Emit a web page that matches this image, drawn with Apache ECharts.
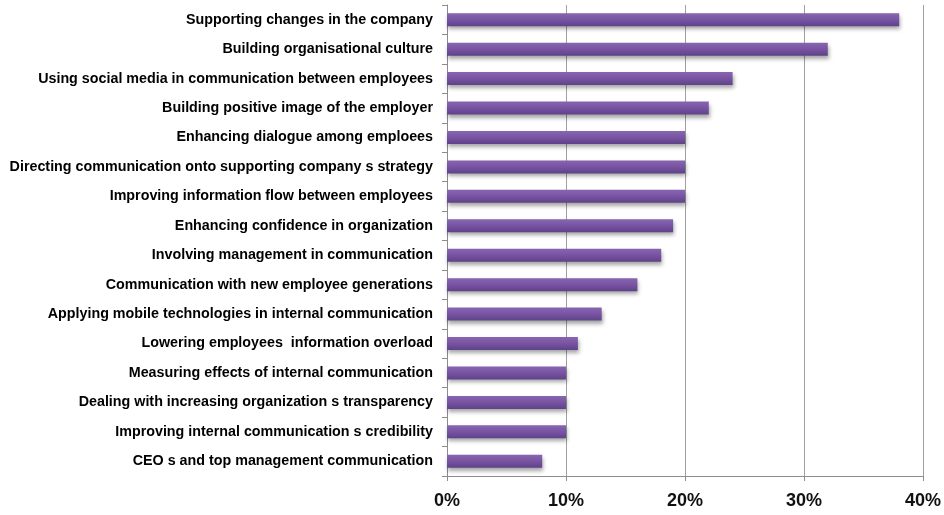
<!DOCTYPE html>
<html><head><meta charset="utf-8">
<script src="https://cdn.jsdelivr.net/npm/echarts@6/dist/echarts.min.js"></script>
<style>html,body{margin:0;padding:0;background:#fff}#c{width:944px;height:515px}</style>
</head><body><div id="c"></div>
<script>
var categories = [
  "Supporting changes in the company",
  "Building organisational culture",
  "Using social media in communication between employees",
  "Building positive image of the employer",
  "Enhancing dialogue among emploees",
  "Directing communication onto supporting company s strategy",
  "Improving information flow between employees",
  "Enhancing confidence in organization",
  "Involving management in communication",
  "Communication with new employee generations",
  "Applying mobile technologies in internal communication",
  "Lowering employees  information overload",
  "Measuring effects of internal communication",
  "Dealing with increasing organization s transparency",
  "Improving internal communication s credibility",
  "CEO s and top management communication"
];
var values = [38, 32, 24, 22, 20, 20, 20, 19, 18, 16, 13, 11, 10, 10, 10, 8];
var xTicks = [0, 10, 20, 30, 40];

var chart = echarts.init(document.getElementById('c'));
chart.setOption({
  animation: false,
  grid: { left: 447, right: 19, top: 5, bottom: 39 },
  xAxis: {
    type: 'value', min: 0, max: 40, interval: 10,
    axisLine: { show: true, lineStyle: { color: '#8c8c8c', width: 1 } },
    axisTick: { show: true, length: 5, lineStyle: { color: '#8c8c8c' } },
    splitLine: { show: true, lineStyle: { color: '#a0a0a0', width: 1 } },
    axisLabel: {
      margin: 16, color: '#111', fontSize: 18, fontWeight: 'bold',
      fontFamily: 'Liberation Sans Narrow, Arial Narrow, sans-serif',
      formatter: function (v) { return xTicks.indexOf(v) >= 0 ? v + '%' : ''; }
    }
  },
  yAxis: {
    type: 'category', data: categories, inverse: true,
    axisLine: { show: true, lineStyle: { color: '#8c8c8c', width: 1 } },
    axisTick: { show: true, length: 5, lineStyle: { color: '#8c8c8c' } },
    axisLabel: {
      margin: 14, color: '#000', fontSize: 14.3, fontWeight: 'bold',
      fontFamily: 'Liberation Sans Narrow, Arial Narrow, sans-serif'
    }
  },
  series: [{
    type: 'bar', data: values, barWidth: 13,
    itemStyle: {
      color: new echarts.graphic.LinearGradient(0, 0, 0, 1, [
        { offset: 0, color: '#8766b0' },
        { offset: 0.5, color: '#7853a3' },
        { offset: 1, color: '#5e4288' }
      ]),
      shadowColor: 'rgba(0,0,0,0.35)', shadowBlur: 4, shadowOffsetX: 1, shadowOffsetY: 3
    }
  }]
});
</script></body></html>
